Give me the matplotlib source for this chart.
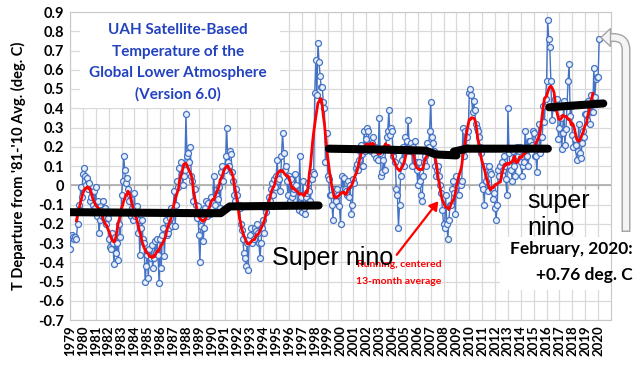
import numpy as np
import matplotlib
matplotlib.use('Agg')
import matplotlib.pyplot as plt
from matplotlib.path import Path
from matplotlib.patches import PathPatch, Polygon, Rectangle, FancyArrowPatch
from matplotlib.transforms import Affine2D

# UAH v6.0 global lower troposphere, monthly anomaly (deg C), Jan 1979 .. Feb 2020
y1979 = [-0.33, -0.27, -0.26, -0.27, -0.28, -0.27, -0.28, -0.20, -0.10, -0.13, -0.01, -0.06]
y1980 = [0.06, 0.09, 0.05, 0.00, 0.04, -0.02, 0.01, -0.08, -0.06, -0.10, -0.03, -0.12]
y1981 = [-0.01, -0.16, -0.08, -0.25, -0.18, -0.13, -0.16, -0.08, -0.17, -0.12, -0.20, -0.17]
y1982 = [-0.28, -0.32, -0.33, -0.25, -0.30, -0.41, -0.27, -0.35, -0.30, -0.39, -0.20, -0.27]
y1983 = [-0.05, 0.02, 0.15, 0.08, 0.01, 0.04, -0.02, -0.08, -0.05, -0.16, -0.12, -0.18]
y1984 = [-0.04, -0.16, -0.11, -0.25, -0.18, -0.36, -0.22, -0.18, -0.28, -0.30, -0.50, -0.42]
y1985 = [-0.36, -0.48, -0.33, -0.38, -0.31, -0.43, -0.38, -0.29, -0.35, -0.28, -0.36, -0.51]
y1986 = [-0.28, -0.43, -0.26, -0.22, -0.37, -0.18, -0.26, -0.25, -0.22, -0.17, -0.12, -0.21]
y1987 = [-0.13, -0.03, -0.21, -0.10, 0.02, -0.01, 0.09, 0.12, 0.06, 0.00, 0.05, 0.08]
y1988 = [0.37, 0.15, 0.17, 0.12, 0.20, 0.05, 0.02, -0.08, -0.02, -0.10, -0.17, -0.11]
y1989 = [-0.26, -0.40, -0.21, -0.18, -0.29, -0.22, -0.12, -0.08, -0.16, -0.09, -0.15, -0.06]
y1990 = [-0.12, -0.09, 0.05, -0.10, -0.05, -0.02, -0.07, -0.01, -0.12, 0.07, 0.10, 0.02]
y1991 = [0.08, 0.15, 0.30, 0.12, 0.10, 0.18, 0.16, 0.07, 0.02, -0.05, -0.08, -0.02]
y1992 = [-0.05, -0.10, -0.12, -0.20, -0.23, -0.28, -0.35, -0.38, -0.42, -0.30, -0.44, -0.28]
y1993 = [-0.26, -0.22, -0.30, -0.28, -0.22, -0.24, -0.20, -0.25, -0.30, -0.38, -0.30, -0.22]
y1994 = [-0.18, -0.25, -0.12, -0.14, -0.10, -0.06, -0.08, -0.02, 0.01, -0.05, 0.03, -0.01]
y1995 = [0.05, 0.13, 0.02, 0.03, -0.03, 0.15, 0.27, 0.17, 0.08, 0.10, 0.02, -0.05]
y1996 = [0.05, -0.08, 0.03, -0.06, -0.04, -0.02, 0.06, 0.00, -0.10, -0.13, 0.15, -0.06]
y1997 = [-0.14, 0.02, -0.12, -0.15, -0.06, -0.04, 0.01, -0.03, -0.08, 0.03, 0.07, 0.06]
y1998 = [0.48, 0.65, 0.47, 0.74, 0.64, 0.57, 0.51, 0.51, 0.43, 0.40, 0.12, 0.27]
y1999 = [0.05, 0.03, -0.05, -0.05, -0.10, -0.18, -0.02, -0.03, -0.08, -0.02, -0.05, -0.11]
y2000 = [-0.20, 0.05, -0.02, 0.04, -0.02, -0.03, -0.05, 0.02, -0.06, 0.00, -0.15, -0.10]
y2001 = [0.03, 0.01, 0.09, 0.11, 0.08, 0.13, 0.18, 0.21, 0.16, 0.10, 0.28, 0.18]
y2002 = [0.24, 0.30, 0.28, 0.20, 0.18, 0.22, 0.25, 0.16, 0.20, 0.14, 0.19, 0.13]
y2003 = [0.35, 0.17, 0.05, 0.07, 0.13, 0.08, 0.20, 0.25, 0.28, 0.39, 0.26, 0.30]
y2004 = [0.28, 0.15, 0.18, 0.12, -0.02, -0.05, -0.22, -0.10, 0.05, 0.13, 0.20, 0.10]
y2005 = [0.25, 0.18, 0.23, 0.34, 0.20, 0.18, 0.22, 0.10, 0.20, 0.23, 0.12, 0.08]
y2006 = [0.00, 0.12, 0.02, -0.05, -0.08, 0.05, 0.12, 0.15, 0.10, 0.22, 0.20, 0.28]
y2007 = [0.43, 0.25, 0.22, 0.18, 0.10, 0.05, 0.08, 0.10, 0.05, 0.00, -0.04, -0.13]
y2008 = [-0.20, -0.22, -0.05, -0.20, -0.28, -0.18, -0.10, -0.10, -0.02, 0.02, -0.04, -0.15]
y2009 = [0.05, 0.00, -0.05, 0.02, 0.00, 0.02, 0.30, 0.15, 0.28, 0.20, 0.25, 0.28]
y2010 = [0.48, 0.50, 0.47, 0.38, 0.44, 0.39, 0.32, 0.30, 0.28, 0.25, 0.20, 0.17]
y2011 = [0.00, -0.02, -0.10, 0.10, 0.02, -0.03, 0.10, 0.07, 0.06, -0.02, -0.07, -0.04]
y2012 = [-0.12, -0.18, -0.10, 0.08, 0.05, 0.10, 0.12, 0.08, 0.15, 0.10, 0.03, -0.05]
y2013 = [0.40, 0.17, 0.10, 0.08, 0.02, 0.18, 0.10, 0.05, 0.20, 0.15, 0.18, 0.20]
y2014 = [0.12, 0.05, 0.10, 0.12, 0.28, 0.20, 0.15, 0.10, 0.23, 0.23, 0.21, 0.28]
y2015 = [0.27, 0.15, 0.15, 0.07, 0.25, 0.32, 0.17, 0.25, 0.25, 0.41, 0.33, 0.45]
y2016 = [0.54, 0.86, 0.76, 0.72, 0.54, 0.34, 0.40, 0.44, 0.45, 0.41, 0.45, 0.24]
y2017 = [0.30, 0.35, 0.19, 0.27, 0.44, 0.21, 0.29, 0.41, 0.54, 0.63, 0.36, 0.41]
y2018 = [0.26, 0.20, 0.24, 0.21, 0.13, 0.18, 0.32, 0.17, 0.14, 0.22, 0.28, 0.25]
y2019 = [0.37, 0.37, 0.34, 0.44, 0.32, 0.47, 0.38, 0.38, 0.61, 0.46, 0.55, 0.56]
y2020 = [0.56, 0.76]

anom = np.array(y1979 + y1980 + y1981 + y1982 + y1983 + y1984 + y1985 + y1986 +
                y1987 + y1988 + y1989 + y1990 + y1991 + y1992 + y1993 + y1994 +
                y1995 + y1996 + y1997 + y1998 + y1999 + y2000 + y2001 + y2002 +
                y2003 + y2004 + y2005 + y2006 + y2007 + y2008 + y2009 + y2010 +
                y2011 + y2012 + y2013 + y2014 + y2015 + y2016 + y2017 + y2018 +
                y2019 + y2020)
t = 1979 + np.arange(len(anom)) / 12.0
run13 = np.convolve(anom, np.ones(13) / 13, mode='valid')   # centered 13-month
t13 = t[6:-6]

# hand-drawn black "plateau" marks
seg1_t = [1979.0, 1989.0, 1990.7, 1991.4, 1998.3]
seg1_v = [-0.14, -0.145, -0.145, -0.11, -0.105]
seg2_t = [1999.1, 2003.5, 2006.6, 2007.4, 2009.0]
seg2_v = [0.19, 0.185, 0.18, 0.16, 0.155]
seg3_t = [2008.8, 2009.8, 2016.1]
seg3_v = [0.175, 0.19, 0.19]
seg4_t = [2016.2, 2020.4]
seg4_v = [0.405, 0.425]

years = list(range(1979, 2021))
yticks = [round(-0.7 + 0.1 * i, 1) for i in range(17)]

W, H = 640, 369
fig = plt.figure(figsize=(6.4, 3.69), dpi=100)
ax = fig.add_axes([70 / W, 1 - 320 / H, 541 / W, 308 / H])
px = Affine2D().scale(1 / W, -1 / H).translate(0, 1) + fig.transFigure  # pixel coords, y down

ax.set_xlim(1979, 2021)
ax.set_ylim(-0.7, 0.9)
ax.set_xticks(years)
ax.set_xticklabels([str(y) for y in years], rotation=90, fontsize=9.5,
                   fontweight='bold', family='Lato')
ax.set_yticks(yticks)
ax.set_yticklabels(['0' if v == 0 else f'{v:.1f}' for v in yticks], fontsize=10.5,
                   fontweight='bold', family='Lato')
ax.tick_params(length=0, pad=4)
ax.grid(True, color='#d9d9d9', lw=0.9)
ax.set_axisbelow(True)
for s in ax.spines.values():
    s.set_color('#c8c8c8')
ax.axhline(0, color='#a6a6a6', lw=1.1, zorder=1)
ax.vlines(years, -0.018, 0, color='#a6a6a6', lw=0.9, zorder=1)

# white box behind the title (pixels x 80..280, y 12..108)
ax.add_patch(Rectangle((80, 108), 200, -96, transform=px, facecolor='white',
                       edgecolor='none', zorder=1.5))

ax.plot(t, anom, color='#4472c4', lw=1.0, marker='o', ms=4.3, mfc='#eaf0fa',
        mec='#4472c4', mew=0.9, zorder=3)
ax.plot(t13, run13, color='#ff0000', lw=2.0, zorder=4)
for st, sv in [(seg1_t, seg1_v), (seg2_t, seg2_v), (seg3_t, seg3_v), (seg4_t, seg4_v)]:
    ax.plot(st, sv, color='black', lw=5.8, solid_capstyle='round',
            solid_joinstyle='round', zorder=5)

blue = '#2342be'
for yy, s in zip([30, 52, 73, 94], ['UAH Satellite-Based', 'Temperature of the',
                                    'Global Lower Atmosphere', '(Version 6.0)']):
    fig.text(178 / W, 1 - yy / H, s, color=blue, fontsize=11, fontweight='bold',
             family='Lato', ha='center', va='center')

fig.text(18 / W, 1 - 166 / H, "T Departure from '81-'10 Avg. (deg. C)", rotation=90,
         fontsize=10.5, fontweight='bold', family='Lato', ha='center', va='center')

fig.text(399 / W, 1 - 267 / H, 'Running, centered', color='red', fontsize=7.5,
         fontweight='bold', family='Lato', ha='center', va='baseline', zorder=6)
fig.text(399 / W, 1 - 284 / H, '13-month average', color='red', fontsize=7.5,
         fontweight='bold', family='Lato', ha='center', va='baseline', zorder=6)
fig.text(272 / W, 1 - 265 / H, 'Super nino', fontsize=18, family='Liberation Sans',
         ha='left', va='baseline', zorder=7)
fig.text(527 / W, 1 - 208 / H, 'super', fontsize=18, family='Liberation Sans',
         ha='left', va='baseline')
fig.text(527 / W, 1 - 235 / H, 'nino', fontsize=18, family='Liberation Sans',
         ha='left', va='baseline')

# white box behind the February note (pixels x 500..611, y 237..290)
ax.add_patch(Rectangle((500, 290), 111, -53, transform=px, facecolor='white',
                       edgecolor='none', zorder=1.5, clip_on=False))
fig.text(633 / W, 1 - 254 / H, 'February, 2020:', fontsize=12.5, fontweight='bold',
         family='Lato', ha='right', va='baseline')
fig.text(633 / W, 1 - 280 / H, '+0.76 deg. C', fontsize=12.5, fontweight='bold',
         family='Lato', ha='right', va='baseline')

# red pointer to the 2008 dip
fig.add_artist(FancyArrowPatch((395, 257), (440, 199), transform=px,
                               arrowstyle='-|>,head_length=5,head_width=3',
                               color='red', lw=1.6, mutation_scale=1))

# grey bent arrow pointing at the last value
codes = [Path.MOVETO, Path.LINETO, Path.CURVE3, Path.CURVE3, Path.LINETO]
verts = [(626, 232), (626, 50), (626, 37.5), (613.5, 37.5), (608, 37.5)]
fig.add_artist(PathPatch(Path(verts, codes), transform=px, fill=False,
                         edgecolor='#a6a6a6', lw=6.5, capstyle='butt'))
verts2 = [(626, 230.5), (626, 50), (626, 37.5), (613.5, 37.5), (608, 37.5)]
fig.add_artist(PathPatch(Path(verts2, codes), transform=px, fill=False,
                         edgecolor='#f4f4f4', lw=4.4, capstyle='butt'))
fig.add_artist(Polygon([(601, 37.5), (610.5, 28.5), (610.5, 46.5)], closed=True,
                       transform=px, facecolor='#f4f4f4', edgecolor='#a6a6a6', lw=1))

fig.savefig('out.png', dpi=100)
